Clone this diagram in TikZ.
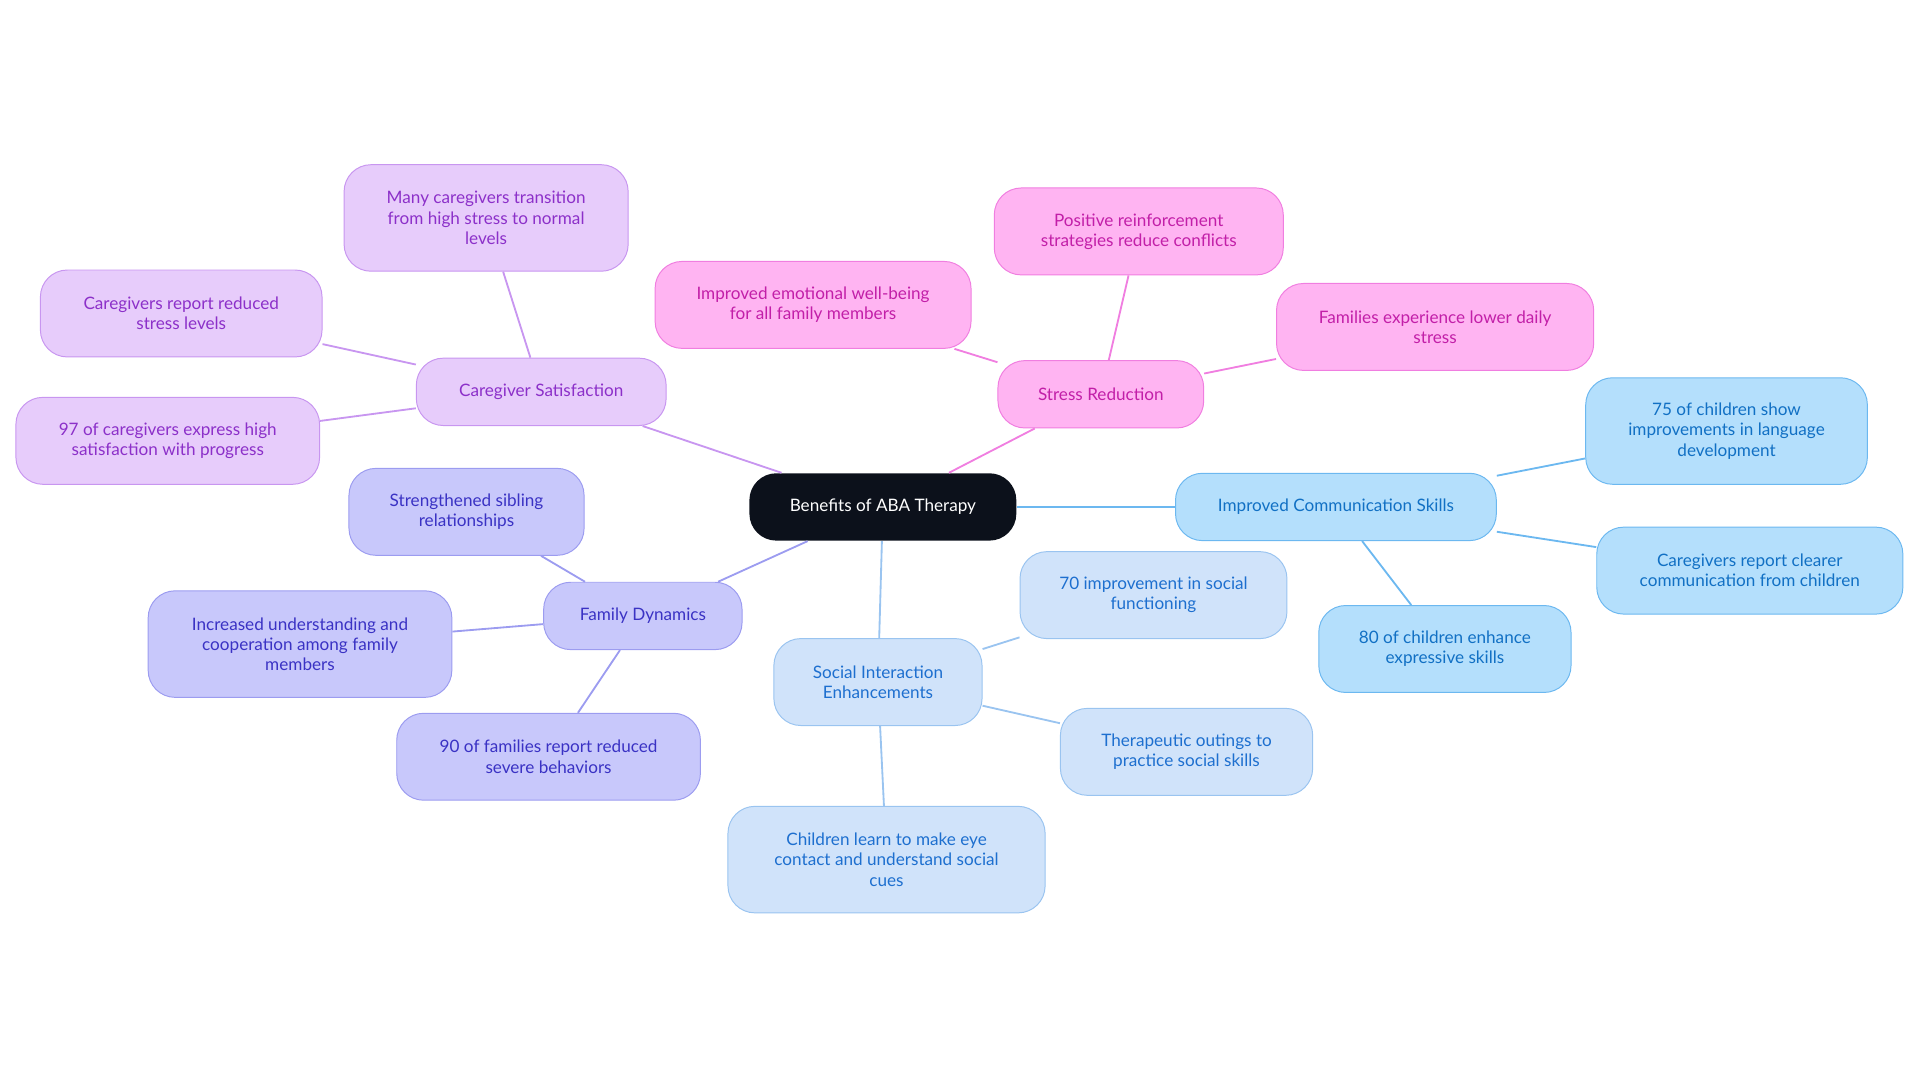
\documentclass[tikz,border=0pt]{standalone}
\usepackage{fontspec}
\setmainfont{Lato}
\begin{document}
\begin{tikzpicture}[x=1pt,y=-1pt,
 base/.style={rounded corners=22pt,align=center,font=\fontsize{14}{16.5}\selectfont,inner sep=0pt,line width=0.8pt},
 pu/.style={base,fill=violet!20!white,fill={rgb,255:red,231;green,204;blue,251},draw={rgb,255:red,200;green,150;blue,240},text={rgb,255:red,140;green,48;blue,201}},
 pk/.style={base,fill={rgb,255:red,255;green,180;blue,242},draw={rgb,255:red,240;green,126;blue,224},text={rgb,255:red,194;green,31;blue,168}},
 bl/.style={base,fill={rgb,255:red,180;green,223;blue,252},draw={rgb,255:red,108;green,184;blue,240},text={rgb,255:red,17;green,112;blue,196}},
 lb/.style={base,fill={rgb,255:red,208;green,227;blue,250},draw={rgb,255:red,154;green,196;blue,240},text={rgb,255:red,29;green,111;blue,207}},
 in/.style={},
 fd/.style={base,fill={rgb,255:red,200;green,200;blue,251},draw={rgb,255:red,156;green,156;blue,240},text={rgb,255:red,58;green,50;blue,196}},
 epu/.style={draw={rgb,255:red,200;green,150;blue,240},line width=1.5pt},
 epk/.style={draw={rgb,255:red,240;green,126;blue,224},line width=1.5pt},
 ebl/.style={draw={rgb,255:red,108;green,184;blue,240},line width=1.5pt},
 elb/.style={draw={rgb,255:red,154;green,196;blue,240},line width=1.5pt},
 efd/.style={draw={rgb,255:red,156;green,156;blue,240},line width=1.5pt}]
\useasboundingbox (0,0) rectangle (1568,884);
\node[base,fill={rgb,255:red,12;green,17;blue,27},text=white,minimum width=218pt,minimum height=55pt] (c) at (721,414) {Benefits of ABA Therapy};
% caregiver
\node[pu,minimum width=204pt,minimum height=55pt] (cs) at (442,320) {Caregiver Satisfaction};
\node[pu,minimum width=232pt,minimum height=87pt] (cs1) at (397,178) {Many caregivers transition\\from high stress to normal\\levels};
\node[pu,minimum width=230pt,minimum height=71pt] (cs2) at (148,256) {Caregivers report reduced\\stress levels};
\node[pu,minimum width=248pt,minimum height=71pt] (cs3) at (137,360) {97 of caregivers express high\\satisfaction with progress};
% stress
\node[pk,minimum width=168pt,minimum height=55pt] (sr) at (899,322) {Stress Reduction};
\node[pk,minimum width=236pt,minimum height=71pt] (sr1) at (930,189) {Positive reinforcement\\strategies reduce conflicts};
\node[pk,minimum width=258pt,minimum height=71pt] (sr2) at (664,249) {Improved emotional well-being\\for all family members};
\node[pk,minimum width=259pt,minimum height=71pt] (sr3) at (1172,267) {Families experience lower daily\\stress};
% communication
\node[bl,minimum width=262pt,minimum height=55pt] (ic) at (1091,414) {Improved Communication Skills};
\node[bl,minimum width=230pt,minimum height=87pt] (ic1) at (1410,352) {75 of children show\\improvements in language\\development};
\node[bl,minimum width=250pt,minimum height=71pt] (ic2) at (1429,466) {Caregivers report clearer\\communication from children};
\node[bl,minimum width=206pt,minimum height=71pt] (ic3) at (1180,530) {80 of children enhance\\expressive skills};
% social
\node[lb,minimum width=170pt,minimum height=71pt] (si) at (717,557) {Social Interaction\\Enhancements};
\node[lb,minimum width=218pt,minimum height=71pt] (si1) at (942,486) {70 improvement in social\\functioning};
\node[lb,minimum width=206pt,minimum height=71pt] (si2) at (969,614) {Therapeutic outings to\\practice social skills};
\node[lb,minimum width=259pt,minimum height=87pt] (si3) at (724,702) {Children learn to make eye\\contact and understand social\\cues};
% family
\node[fd,minimum width=162pt,minimum height=55pt] (fd) at (525,503) {Family Dynamics};
\node[fd,minimum width=192pt,minimum height=71pt] (fd1) at (381,418) {Strengthened sibling\\relationships};
\node[fd,minimum width=248pt,minimum height=87pt] (fd2) at (245,526) {Increased understanding and\\cooperation among family\\members};
\node[fd,minimum width=248pt,minimum height=71pt] (fd3) at (448,618) {90 of families report reduced\\severe behaviors};
\begin{scope}[on background layer/.style={}]
\end{scope}
\draw[epu] (c) -- (cs); \draw[epu] (cs) -- (cs1); \draw[epu] (cs) -- (cs2); \draw[epu] (cs) -- (cs3);
\draw[epk] (c) -- (sr); \draw[epk] (sr) -- (sr1); \draw[epk] (sr) -- (sr2); \draw[epk] (sr) -- (sr3);
\draw[ebl] (c) -- (ic); \draw[ebl] (ic) -- (ic1); \draw[ebl] (ic) -- (ic2); \draw[ebl] (ic) -- (ic3);
\draw[elb] (c) -- (si); \draw[elb] (si) -- (si1); \draw[elb] (si) -- (si2); \draw[elb] (si) -- (si3);
\draw[efd] (c) -- (fd); \draw[efd] (fd) -- (fd1); \draw[efd] (fd) -- (fd2); \draw[efd] (fd) -- (fd3);
\end{tikzpicture}
\end{document}
